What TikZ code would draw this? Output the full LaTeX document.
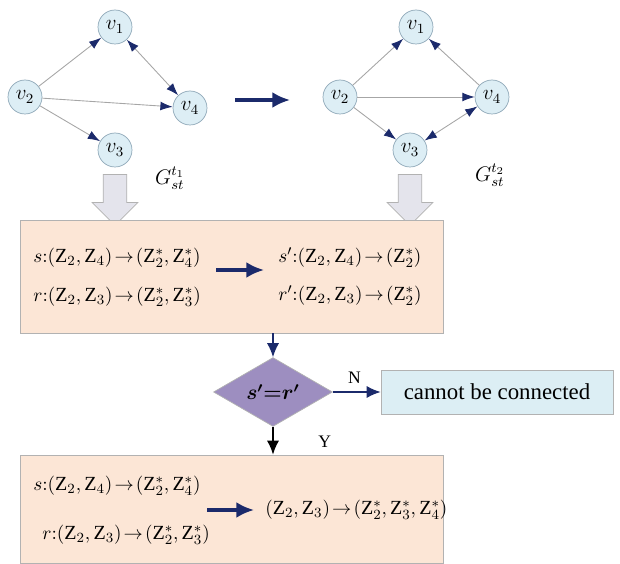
\documentclass[tikz,border=0pt]{standalone}
\usepackage{amsmath,bm}
\usepackage{fontspec}
\setmainfont{Liberation Serif}
\usepackage{xcolor}
\usetikzlibrary{arrows.meta,positioning,shapes.geometric,shapes.arrows}

\definecolor{nodeblue}{HTML}{DDEEF5}
\definecolor{nodeline}{HTML}{8FA8B8}
\definecolor{navy}{HTML}{1B2A6B}
\definecolor{peach}{HTML}{FCE6D6}
\definecolor{lilac}{HTML}{9D8EC0}
\definecolor{failblue}{HTML}{DCEEF4}
\definecolor{hollow}{HTML}{E4E4EC}

\newcommand{\Zn}[1]{\mathrm{Z}_{#1}}
\newcommand{\Zs}[1]{\mathrm{Z}_{#1}^{*}}
\newcommand{\mapsarrow}{\mathrel{\!\rightarrow\!}}

\begin{document}
\begin{tikzpicture}[x=0.02cm,y=-0.02cm,
    vert/.style={circle,draw=nodeline,fill=nodeblue,minimum size=0.68cm,inner sep=0pt,font=\large},
    edge/.style={draw=gray!70,line width=0.5pt,-{Latex[length=7pt,width=5pt,color=navy]}},
    bothedge/.style={draw=gray!70,line width=0.5pt,{Latex[length=7pt,width=5pt,color=navy]}-{Latex[length=7pt,width=5pt,color=navy]}},
    bigarrow/.style={navy,line width=1.8pt,-{Latex[length=10pt,width=9pt]}},
    block/.style={rectangle,draw=gray!60,fill=peach,inner sep=0pt},
    hollowarrow/.style={single arrow,shape border rotate=270,draw=gray!60,fill=hollow,
      minimum height=1.02cm,minimum width=0.9cm,single arrow head extend=0.22cm,inner sep=0pt},
    rule/.style={anchor=west,font=\fontsize{11.4}{14}\selectfont,inner sep=0pt}]
  \useasboundingbox (0,0) rectangle (620,564);

  % graph at t1
  \node[vert] (v1_a) at (115,27) {$v_1$};
  \node[vert] (v2_a) at (25,97) {$v_2$};
  \node[vert] (v4_a) at (190,108) {$v_4$};
  \node[vert] (v3_a) at (115,150) {$v_3$};
  \node[font=\large] (g_a) at (170,178) {$G_{st}^{t_1}$};
  \draw[edge] (v2_a) -- (v1_a);
  \draw[edge] (v2_a) -- (v4_a);
  \draw[edge] (v2_a) -- (v3_a);
  \draw[bothedge] (v1_a) -- (v4_a);

  % graph at t2
  \node[vert] (v1_b) at (416,27) {$v_1$};
  \node[vert] (v2_b) at (340,97) {$v_2$};
  \node[vert] (v4_b) at (492,97) {$v_4$};
  \node[vert] (v3_b) at (410,150) {$v_3$};
  \node[font=\large] (g_b) at (490,175) {$G_{st}^{t_2}$};
  \draw[edge] (v2_b) -- (v1_b);
  \draw[edge] (v2_b) -- (v4_b);
  \draw[edge] (v2_b) -- (v3_b);
  \draw[edge] (v4_b) -- (v1_b);
  \draw[bothedge] (v3_b) -- (v4_b);

  \coordinate (step_a) at (235,100);
  \coordinate (step_b) at (290,100);
  \draw[bigarrow] (step_a) -- (step_b);

  \node[hollowarrow] (down_a) at (115,194) {\rule{0.46cm}{0pt}\rule{0pt}{0.46cm}};
  \node[hollowarrow] (down_b) at (410,194) {\rule{0.46cm}{0pt}\rule{0pt}{0.46cm}};

  % rules box
  \node[block,minimum width=8.46cm,minimum height=2.26cm] (rule_box) at (231.5,276.5) {};
  \node[rule] (s_old) at (33,258) {$s{:}(\Zn2,\Zn4)\mapsarrow(\Zs2,\Zs4)$};
  \node[rule] (r_old) at (33,297) {$r{:}(\Zn2,\Zn3)\mapsarrow(\Zs2,\Zs3)$};
  \node[rule] (s_new) at (278,258) {$s'{:}(\Zn2,\Zn4)\mapsarrow(\Zs2)$};
  \node[rule] (r_new) at (278,296) {$r'{:}(\Zn2,\Zn3)\mapsarrow(\Zs2)$};
  \coordinate (map_a) at (216,270);
  \coordinate (map_b) at (264,270);
  \draw[bigarrow] (map_a) -- (map_b);

  % decision
  \node[diamond,draw=gray!60,fill=lilac,minimum width=2.38cm,minimum height=0.96cm,inner sep=0pt,font=\large] (cond) at (273,392) {$\bm{s'{=}r'}$};
  \node[rectangle,draw=gray!60,fill=failblue,minimum width=4.64cm,minimum height=0.88cm,font=\fontsize{13}{15}\selectfont] (fail_box) at (497,392) {cannot be connected};
  \draw[navy,line width=1pt,-{Latex[length=8pt,width=7pt]}] (rule_box.south -| cond.north) -- (cond.north);
  \draw[navy,line width=1pt,-{Latex[length=8pt,width=7pt]}] (cond.east) -- (fail_box.west) node[pos=0.45,above=1pt,black] (n_lbl) {N};
  \node[block,minimum width=8.46cm,minimum height=2.16cm] (merge_box) at (231.5,509) {};
  \draw[black,line width=1pt,-{Latex[length=8pt,width=7pt]}] (cond.south) -- (cond.south |- merge_box.north) node[pos=0.55,right=22pt] (y_lbl) {Y};

  % merged rule
  \node[rule] (s_join) at (33,486) {$s{:}(\Zn2,\Zn4)\mapsarrow(\Zs2,\Zs4)$};
  \node[rule] (r_join) at (42,535) {$r{:}(\Zn2,\Zn3)\mapsarrow(\Zs2,\Zs3)$};
  \node[rule] (joined) at (265,510) {$(\Zn2,\Zn3)\mapsarrow(\Zs2,\Zs3,\Zs4)$};
  \coordinate (join_a) at (207,510);
  \coordinate (join_b) at (254,510);
  \draw[bigarrow] (join_a) -- (join_b);
\end{tikzpicture}
\end{document}
